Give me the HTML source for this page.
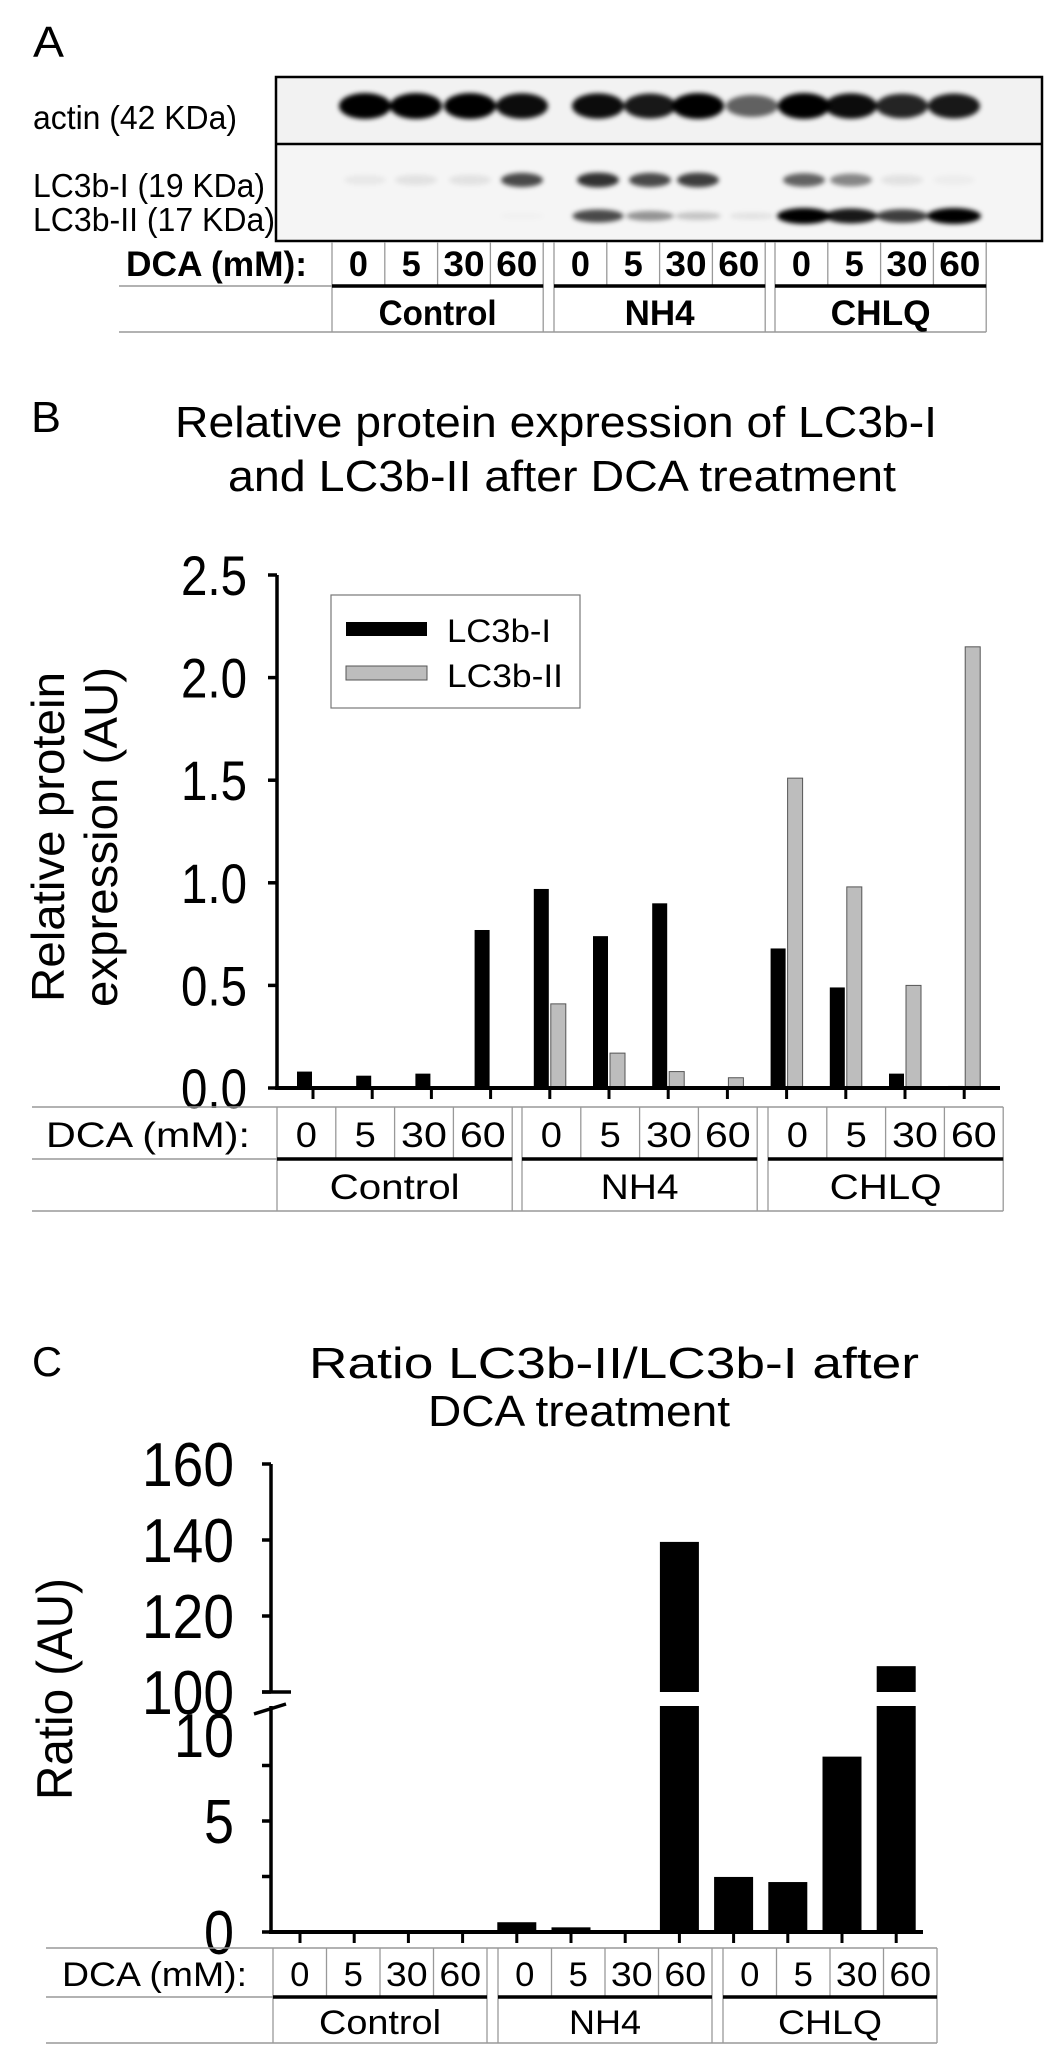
<!DOCTYPE html>
<html><head><meta charset="utf-8"><style>
html,body{margin:0;padding:0;background:#fff}
svg{display:block;font-family:"Liberation Sans",Arial,sans-serif}
</style></head><body>
<svg id="fig" width="1063" height="2063" viewBox="0 0 1063 2063" xmlns="http://www.w3.org/2000/svg">
<defs>
<filter id="blur" x="-50%" y="-100%" width="200%" height="300%"><feGaussianBlur stdDeviation="2.5"/></filter>
</defs>
<!-- Panel A -->
<g>
<text x="33" y="57" font-size="44" textLength="31" lengthAdjust="spacingAndGlyphs">A</text>
<rect x="276" y="77" width="766" height="67" fill="#f2f2f2"/>
<rect x="276" y="144" width="766" height="97" fill="#f5f5f5"/>
<g id="bands" filter="url(#blur)"></g>
<rect x="276" y="77" width="766" height="164" fill="none" stroke="#000" stroke-width="2.5"/>
<line x1="276" y1="144" x2="1042" y2="144" stroke="#000" stroke-width="2.5"/>
<text x="33" y="129" font-size="33" textLength="204" lengthAdjust="spacingAndGlyphs">actin (42 KDa)</text>
<text x="33" y="197" font-size="33" textLength="232" lengthAdjust="spacingAndGlyphs">LC3b-I (19 KDa)</text>
<text x="33" y="231" font-size="33" textLength="242" lengthAdjust="spacingAndGlyphs">LC3b-II (17 KDa)</text>
<g id="tableA"></g>
</g>
<!-- Panel B -->
<g>
<text x="31" y="432" font-size="44" textLength="30" lengthAdjust="spacingAndGlyphs">B</text>
<text x="175" y="437" font-size="44" textLength="762" lengthAdjust="spacingAndGlyphs">Relative protein expression of LC3b-I</text>
<text x="228" y="491" font-size="44" textLength="668" lengthAdjust="spacingAndGlyphs">and LC3b-II after DCA treatment</text>
<g>
<text x="0" y="0" font-size="46" text-anchor="middle" textLength="330" lengthAdjust="spacingAndGlyphs" transform="translate(64,837) rotate(-90)">Relative protein</text>
<text x="0" y="0" font-size="46" text-anchor="middle" textLength="340" lengthAdjust="spacingAndGlyphs" transform="translate(117,837) rotate(-90)">expression (AU)</text>
</g>
<g id="chartB"></g>
<g>
<rect x="331" y="595" width="249" height="113" fill="#fff" stroke="#777" stroke-width="1.2"/>
<rect x="346" y="622" width="81" height="14" fill="#000"/>
<text x="447" y="642" font-size="32" textLength="104" lengthAdjust="spacingAndGlyphs">LC3b-I</text>
<rect x="346" y="666" width="81" height="14" fill="#bdbdbd" stroke="#555" stroke-width="1"/>
<text x="447" y="687" font-size="32" textLength="116" lengthAdjust="spacingAndGlyphs">LC3b-II</text>
</g>
<g id="tableB"></g>
</g>
<!-- Panel C -->
<g>
<text x="32" y="1376" font-size="42" textLength="30" lengthAdjust="spacingAndGlyphs">C</text>
<text x="309" y="1378" font-size="44" textLength="610" lengthAdjust="spacingAndGlyphs">Ratio LC3b-II/LC3b-I after</text>
<text x="428" y="1426" font-size="44" textLength="302" lengthAdjust="spacingAndGlyphs">DCA treatment</text>
<text x="0" y="0" font-size="50" text-anchor="middle" textLength="222" lengthAdjust="spacingAndGlyphs" transform="translate(72,1689) rotate(-90)">Ratio (AU)</text>
<g id="chartC"></g>
<g id="tableC"></g>
</g>
</svg>
<script>
// ---- Data ----
const doses = ["0","5","30","60"];
const groups = ["Control","NH4","CHLQ"];
const seriesLC3bI = [0.08,0.06,0.07,0.77, 0.97,0.74,0.90,0.0, 0.68,0.49,0.07,0.01];
const seriesLC3bII = [0,0,0,0, 0.41,0.17,0.08,0.05, 1.51,0.98,0.50,2.15];
const ticksB = ["0.0","0.5","1.0","1.5","2.0","2.5"];
const tickValsB = [0,0.5,1,1.5,2,2.5];
const ratioValues = [0,0,0,0, 0.44,0.21,0,139.5, 2.48,2.25,7.9,106.8];
const ticksCUpper = [100,120,140,160];
const ticksCLower = [0,5,10];
const blotActin = [1,1,1,0.95, 0.95,0.9,1,0.6, 1,0.95,0.85,0.9];
const blotLC3I = [0.05,0.08,0.08,0.7, 0.8,0.7,0.75,0, 0.6,0.45,0.08,0.03];
const blotLC3II = [0,0,0,0.02, 0.7,0.4,0.2,0.08, 1,0.9,0.75,1];

const NS="http://www.w3.org/2000/svg";
function mk(tag, parent, attrs){const e=document.createElementNS(NS,tag);for(const k in attrs)e.setAttribute(k,attrs[k]);parent.appendChild(e);return e;}

// ---- Blot ----
const lanes=[365,416,470,522,598,650,698,752,804,851,902,954];
const bands=document.getElementById('bands');
lanes.forEach((x,i)=>{
  let e=mk('ellipse',bands,{cx:x,cy:106,rx:26,ry:8+5*blotActin[i],fill:'#000','fill-opacity':blotActin[i]});
  
  
  if(blotLC3I[i]>0){e=mk('ellipse',bands,{cx:x,cy:180,rx:21,ry:5+3*blotLC3I[i],fill:'#000','fill-opacity':blotLC3I[i]});
  
  }
  if(blotLC3II[i]>0){e=mk('ellipse',bands,{cx:x,cy:216,rx:22+5*blotLC3II[i],ry:3+5*blotLC3II[i],fill:'#000','fill-opacity':blotLC3II[i]});
  
  }
});

// ---- Tables ----
function table(id,o){
  const g=document.getElementById(id);
  const gray='#999';
  mk('line',g,{x1:o.left,y1:o.mid,x2:o.starts[0],y2:o.mid,stroke:gray,'stroke-width':1.5});
  mk('line',g,{x1:o.left,y1:o.bot,x2:o.starts[2]+4*o.cw,y2:o.bot,stroke:gray,'stroke-width':1.5});
  if(o.top!=null) mk('line',g,{x1:o.left,y1:o.top,x2:o.starts[2]+4*o.cw,y2:o.top,stroke:gray,'stroke-width':1.5});
  const t=mk('text',g,{x:o.lx,y:o.numBase,'font-size':o.fs,'font-weight':o.bold?'bold':'normal',textLength:o.lw,lengthAdjust:'spacingAndGlyphs'});
  t.textContent='DCA (mM):';
  
  
  groups.forEach((gn,gi)=>{
    const s=o.starts[gi];
    for(let k=0;k<=4;k++) mk('line',g,{x1:s+k*o.cw,y1:o.rowTop,x2:s+k*o.cw,y2:(k==0||k==4)?o.bot:o.mid,stroke:gray,'stroke-width':1.3});
    doses.forEach((d,di)=>{
      const n=mk('text',g,{x:s+(di+0.5)*o.cw,y:o.numBase,'font-size':o.fs,'text-anchor':'middle','font-weight':o.bold?'bold':'normal'});
      if(d.length>1){n.setAttribute('textLength',o.cw*0.78);n.setAttribute('lengthAdjust','spacingAndGlyphs');}
      else {n.setAttribute('textLength',o.cw*0.36);n.setAttribute('lengthAdjust','spacingAndGlyphs');}
      n.textContent=d;
      
      
    });
    mk('line',g,{x1:s,y1:o.mid,x2:s+4*o.cw,y2:o.mid,stroke:'#000','stroke-width':3.5});
    const gt=mk('text',g,{x:s+2*o.cw,y:o.grpBase,'font-size':o.fs,'text-anchor':'middle','font-weight':o.bold?'bold':'normal',textLength:o.gw[gi],lengthAdjust:'spacingAndGlyphs'});
    gt.textContent=gn;
    
    
  });
}
table('tableA',{left:119,top:null,rowTop:242,mid:286,bot:332,starts:[332,554,775],cw:52.8,numBase:276,grpBase:325,fs:35,bold:true,lx:126,lw:181,gw:[118,70,100]});
table('tableB',{left:32,top:1107,rowTop:1107,mid:1159,bot:1211,starts:[277,522,768],cw:58.8,numBase:1147,grpBase:1199,fs:35,bold:false,lx:46,lw:204,gw:[130,78,112]});
table('tableC',{left:46,top:1948,rowTop:1948,mid:1997,bot:2043,starts:[273,498,723],cw:53.5,numBase:1986,grpBase:2034,fs:34,bold:false,lx:62,lw:185,gw:[122,72,104]});

// ---- Chart B ----
const gB=document.getElementById('chartB');
const bx0=277,bx1=1000,by0=1088,bpx=205.2; // px per unit
const yB=v=>by0-v*bpx;
const xB=i=>313+i*59.2;
seriesLC3bI.forEach((v,i)=>{
  const r=mk('rect',gB,{x:xB(i)-16,y:yB(v),width:15,height:by0-yB(v),fill:'#000'});
  
  
});
seriesLC3bII.forEach((v,i)=>{
  if(v<=0)return;
  const r=mk('rect',gB,{x:xB(i)+1,y:yB(v),width:15,height:by0-yB(v),fill:'#bdbdbd',stroke:'#555','stroke-width':1});
  
  
});
mk('line',gB,{x1:bx0,y1:yB(2.5),x2:bx0,y2:by0+2,stroke:'#000','stroke-width':3.5});
mk('line',gB,{x1:bx0-2,y1:by0,x2:bx1,y2:by0,stroke:'#000','stroke-width':4});
tickValsB.forEach((v,i)=>{
  mk('line',gB,{x1:bx0-9,y1:yB(v),x2:bx0,y2:yB(v),stroke:'#000','stroke-width':3.5});
  const t=mk('text',gB,{x:247,y:yB(v)+20,'font-size':56,'text-anchor':'end',textLength:66,lengthAdjust:'spacingAndGlyphs'});
  t.textContent=ticksB[i];
  
  
});
seriesLC3bI.forEach((v,i)=>mk('line',gB,{x1:xB(i),y1:by0,x2:xB(i),y2:by0+11,stroke:'#000','stroke-width':3}));

// ---- Chart C ----
const gC=document.getElementById('chartC');
const cx0=271,cx1=923;
const yLow=v=>1932-v*22.2;       // 0..10.3
const yUp=v=>1692-(v-100)*3.8;   // 100..160
const lowTop=1706, upBot=1692;
const xC=i=>300+i*54.2;
ratioValues.forEach((v,i)=>{
  if(v<=0)return;
  const x=xC(i)-19.5;
  let r;
  if(v<=10.3){
    r=mk('rect',gC,{x:x,y:yLow(v),width:39,height:1932-yLow(v),fill:'#000'});
  } else {
    r=mk('rect',gC,{x:x,y:lowTop,width:39,height:1932-lowTop,fill:'#000'});
    const r2=mk('rect',gC,{x:x,y:yUp(v),width:39,height:upBot-yUp(v),fill:'#000'});
    
    
  }
  
  
});
mk('line',gC,{x1:cx0,y1:yUp(160),x2:cx0,y2:upBot,stroke:'#000','stroke-width':3.5});
mk('line',gC,{x1:cx0,y1:lowTop,x2:cx0,y2:1934,stroke:'#000','stroke-width':3.5});
mk('line',gC,{x1:cx0-2,y1:1932,x2:cx1,y2:1932,stroke:'#000','stroke-width':4});
mk('line',gC,{x1:262,y1:upBot,x2:291,y2:upBot,stroke:'#000','stroke-width':3.5});
mk('line',gC,{x1:254,y1:1714,x2:286,y2:1704,stroke:'#000','stroke-width':3.5});
ticksCUpper.forEach(v=>{
  mk('line',gC,{x1:cx0-9,y1:yUp(v),x2:cx0,y2:yUp(v),stroke:'#000','stroke-width':3.5});
  const t=mk('text',gC,{x:234,y:yUp(v)+22,'font-size':62,'text-anchor':'end',textLength:92,lengthAdjust:'spacingAndGlyphs'});
  t.textContent=String(v);
  
  
});
ticksCLower.forEach(v=>{
  const yy=v===10?1735:yLow(v);
  if(v!==10) mk('line',gC,{x1:cx0-9,y1:yLow(v),x2:cx0,y2:yLow(v),stroke:'#000','stroke-width':3.5});
  const t=mk('text',gC,{x:234,y:yy+22,'font-size':62,'text-anchor':'end'});
  if(v===10){t.setAttribute('textLength',60);t.setAttribute('lengthAdjust','spacingAndGlyphs');}
  else {t.setAttribute('textLength',30);t.setAttribute('lengthAdjust','spacingAndGlyphs');}
  t.textContent=String(v);
  
  
});
[2.5,7.5].forEach(v=>mk('line',gC,{x1:cx0-9,y1:yLow(v),x2:cx0,y2:yLow(v),stroke:'#000','stroke-width':3.5}));
ratioValues.forEach((v,i)=>mk('line',gC,{x1:xC(i),y1:1932,x2:xC(i),y2:1943,stroke:'#000','stroke-width':3}));
</script>
</body></html>
